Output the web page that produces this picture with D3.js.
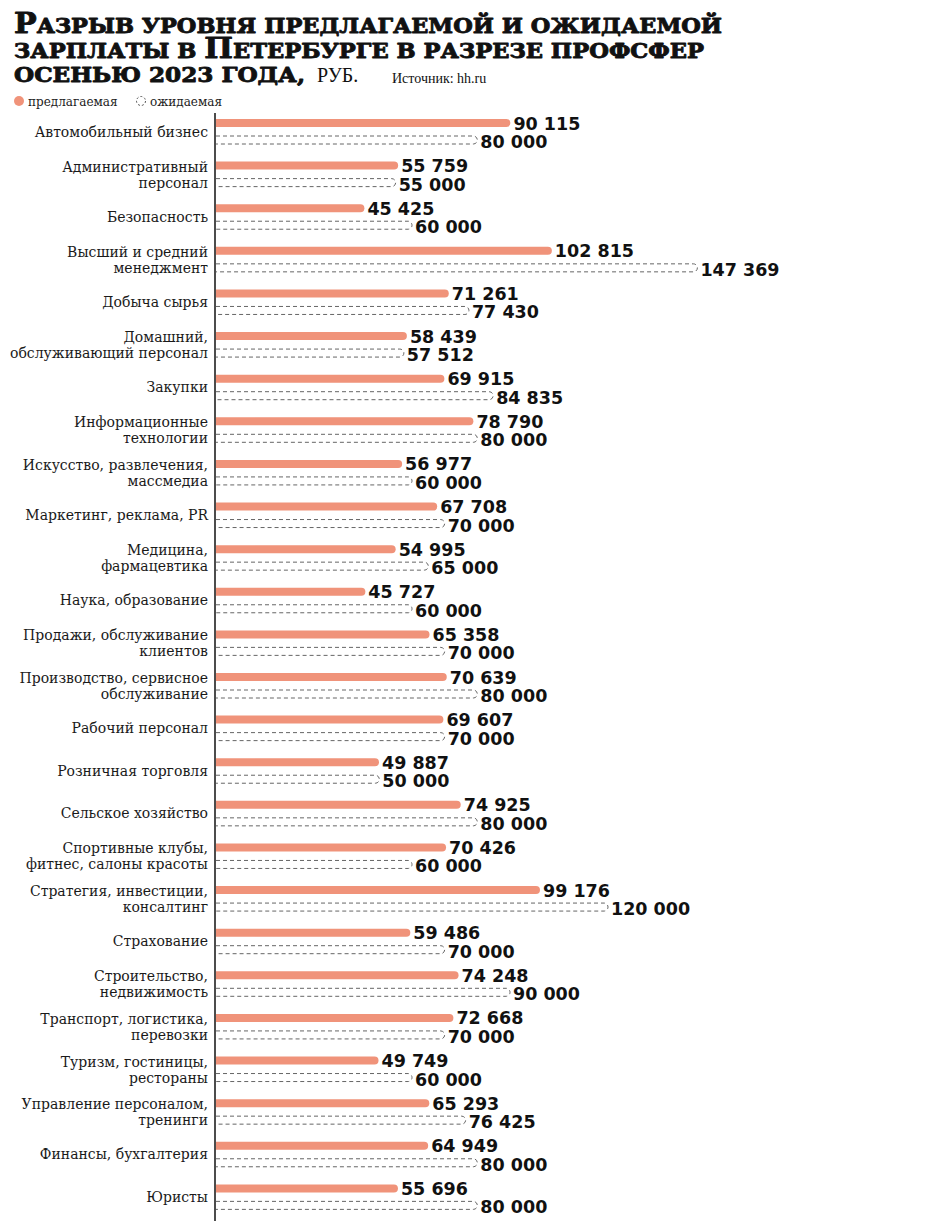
<!DOCTYPE html>
<html><head><meta charset="utf-8">
<script src="https://cdn.jsdelivr.net/npm/d3@7"></script>
<style>
html,body{margin:0;padding:0;background:#fff;}
svg{display:block;}
</style></head>
<body>
<svg id="chart" width="930" height="1221"></svg>
<script>
const categories = [
  ["Автомобильный бизнес"],
  ["Административный","персонал"],
  ["Безопасность"],
  ["Высший и средний","менеджмент"],
  ["Добыча сырья"],
  ["Домашний,","обслуживающий персонал"],
  ["Закупки"],
  ["Информационные","технологии"],
  ["Искусство, развлечения,","массмедиа"],
  ["Маркетинг, реклама, PR"],
  ["Медицина,","фармацевтика"],
  ["Наука, образование"],
  ["Продажи, обслуживание","клиентов"],
  ["Производство, сервисное","обслуживание"],
  ["Рабочий персонал"],
  ["Розничная торговля"],
  ["Сельское хозяйство"],
  ["Спортивные клубы,","фитнес, салоны красоты"],
  ["Стратегия, инвестиции,","консалтинг"],
  ["Страхование"],
  ["Строительство,","недвижимость"],
  ["Транспорт, логистика,","перевозки"],
  ["Туризм, гостиницы,","рестораны"],
  ["Управление персоналом,","тренинги"],
  ["Финансы, бухгалтерия"],
  ["Юристы"]
];
const offered = [90115,55759,45425,102815,71261,58439,69915,78790,56977,67708,54995,45727,65358,70639,69607,49887,74925,70426,99176,59486,74248,72668,49749,65293,64949,55696];
const expected = [80000,55000,60000,147369,77430,57512,84835,80000,60000,70000,65000,60000,70000,80000,70000,50000,80000,60000,120000,70000,90000,70000,60000,76425,80000,80000];
const titleLines = ["Разрыв уровня предлагаемой и ожидаемой","зарплаты в Петербурге в разрезе профсфер","осенью 2023 года,"];
const unitText = "РУБ.";
const sourceText = "Источник: hh.ru";
const legendLabels = ["предлагаемая","ожидаемая"];

const svg = d3.select("#chart");
const salmon = "#f0937a";
const fmt = v => d3.format(",")(v).replace(/,/g," ");

// Title: manual small caps (capitals larger, others uppercase smaller)
const titleX = 14, titleBase = [33, 58, 82], titleW = [708, 690, 291];
titleLines.forEach((t,i)=>{
  const runs = [];
  for(const ch of t){
    const big = ch !== ch.toLowerCase();
    if(runs.length && runs[runs.length-1].big===big) runs[runs.length-1].s += ch;
    else runs.push({big, s:ch});
  }
  const tx = svg.append("text").attr("x",titleX).attr("y",titleBase[i])
    .attr("font-family","DejaVu Serif").attr("font-weight","bold")
    .attr("textLength",titleW[i]).attr("lengthAdjust","spacingAndGlyphs")
    .attr("fill","#111").attr("stroke","#111").attr("stroke-width",0.9)
    .attr("stroke-linejoin","round");
  runs.forEach(r=>{
    tx.append("tspan").attr("font-size", r.big?27.5:20.5).text(r.s.toUpperCase());
  });
});
svg.append("text").attr("x",317).attr("y",82).attr("font-family","Liberation Serif")
  .attr("font-size",20).attr("fill","#111").text(unitText);
svg.append("text").attr("x",392).attr("y",83).attr("font-family","Liberation Serif")
  .attr("font-size",14).attr("fill","#111").text(sourceText);

// Legend
svg.append("circle").attr("cx",19).attr("cy",101).attr("r",5).attr("fill",salmon);
svg.append("text").attr("x",28).attr("y",105.5).attr("font-family","DejaVu Serif")
  .attr("font-size",12).attr("fill","#222").text(legendLabels[0]);
svg.append("circle").attr("cx",141).attr("cy",101).attr("r",4.5).attr("fill","none")
  .attr("stroke","#555").attr("stroke-dasharray","2,2");
svg.append("text").attr("x",150).attr("y",105.5).attr("font-family","DejaVu Serif")
  .attr("font-size",12).attr("fill","#222").text(legendLabels[1]);

// Scales
const x = d3.scaleLinear().domain([0,150000]).range([216,706]);
const y = d3.scaleBand().domain(d3.range(categories.length)).range([110,1218]).paddingInner(0).paddingOuter(0);
const bh = 8;
const offC = i => y(i) + 13;
const expC = i => y(i) + 30;

function roundedBar(x0,x1,cy,h){
  const r = h/2;
  return `M${x0},${cy-r}L${x1-r},${cy-r}A${r},${r} 0 0 1 ${x1-r},${cy+r}L${x0},${cy+r}`;
}
function roundedBarFill(x0,x1,cy,h){
  return roundedBar(x0,x1,cy,h)+"Z";
}

const rows = svg.append("g").selectAll("g").data(categories).join("g");

rows.append("path")
  .attr("d",(d,i)=>roundedBarFill(x(0),x(offered[i]),offC(i),bh))
  .attr("fill",salmon);
rows.append("path")
  .attr("d",(d,i)=>roundedBar(x(0),x(expected[i]),expC(i),bh))
  .attr("fill","none").attr("stroke","#666").attr("stroke-width",1)
  .attr("stroke-dasharray","4,3");

rows.append("text")
  .attr("x",(d,i)=>x(offered[i])+3).attr("y",(d,i)=>offC(i)+6.5)
  .attr("font-family","DejaVu Sans").attr("font-weight","bold").attr("font-size",17.5)
  .attr("fill","#111").text((d,i)=>fmt(offered[i]));
rows.append("text")
  .attr("x",(d,i)=>x(expected[i])+3).attr("y",(d,i)=>expC(i)+8)
  .attr("font-family","DejaVu Sans").attr("font-weight","bold").attr("font-size",17.5)
  .attr("fill","#111").text((d,i)=>fmt(expected[i]));

// Category labels
rows.each(function(d,i){
  const g = d3.select(this);
  const t = g.append("text").attr("text-anchor","end").attr("x",208)
    .attr("font-family","DejaVu Serif").attr("font-size",14).attr("fill","#1a1a1a");
  if(d.length===1){
    t.append("tspan").attr("x",208).attr("y",(offC(i)+expC(i))/2+5).text(d[0]);
  } else {
    t.append("tspan").attr("x",208).attr("y",offC(i)+6).text(d[0]);
    t.append("tspan").attr("x",208).attr("y",expC(i)+5).text(d[1]);
  }
});

// axis line
svg.append("line").attr("x1",215).attr("x2",215).attr("y1",113).attr("y2",1221)
  .attr("stroke","#111").attr("stroke-width",1.5);
</script>
</body></html>
